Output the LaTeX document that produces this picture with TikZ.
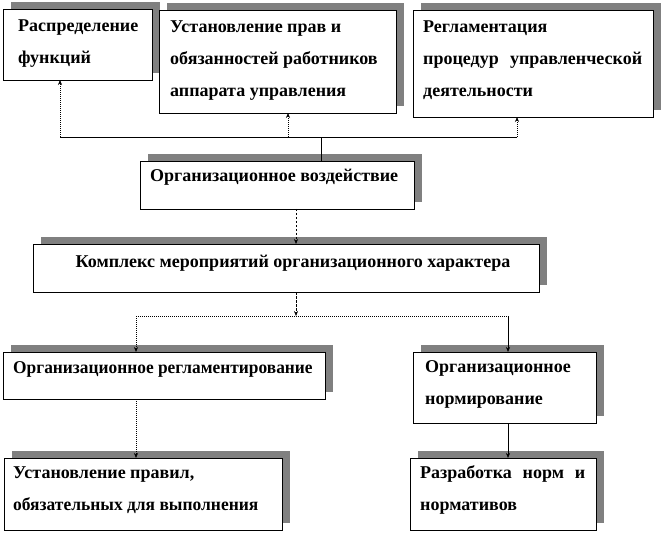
\documentclass[tikz,border=0pt]{standalone}
\usepackage{fontspec}
\setmainfont{Liberation Serif}
\usetikzlibrary{shadows,arrows.meta}
\definecolor{shadowgray}{RGB}{128,128,128}
\begin{document}
\begin{tikzpicture}[x=1pt,y=-1pt,
  box/.style={draw=black,line width=0.6pt,fill=white,rectangle,anchor=north west,inner sep=0pt,outer sep=0pt,
     drop shadow={shadow xshift=8pt,shadow yshift=7pt,fill=shadowgray,opacity=1}},
  txt/.style={anchor=north west,inner sep=0pt,align=left,font=\bfseries\fontsize{18}{32}\selectfont},
  ln/.style={line width=0.6pt},
  dotln/.style={line width=0.6pt,dash pattern=on 1pt off 1pt},
  dashln/.style={line width=0.6pt,dash pattern=on 2.5pt off 1.5pt},
  arr/.style={-{Stealth[length=5pt,width=4pt]}}
]
\useasboundingbox (0,0) rectangle (663,534);
% boxes
\node[box,minimum width=149pt,minimum height=71pt] (b1) at (3,9) {};
\node[box,minimum width=237pt,minimum height=103pt] (b2) at (159,10) {};
\node[box,minimum width=240pt,minimum height=107pt] (b3) at (413,10) {};
\node[box,minimum width=274pt,minimum height=48pt] (org) at (140,161) {};
\node[box,minimum width=506pt,minimum height=48pt] (kom) at (33,244) {};
\node[box,minimum width=322pt,minimum height=47pt] (reg) at (3,352) {};
\node[box,minimum width=183pt,minimum height=71pt] (norm) at (413,352) {};
\node[box,minimum width=278pt,minimum height=72pt] (prav) at (4,458) {};
\node[box,minimum width=186pt,minimum height=72pt] (razr) at (410,458) {};
% texts
\node[txt] (t1) at (18,18) {\rule{0pt}{13pt}Распределение\\функций};
\node[txt] (t2) at (170,19) {\rule{0pt}{13pt}Установление прав и\\обязанностей работников\\аппарата управления};
\node[txt] (t3) at (423,19) {\rule{0pt}{13pt}Регламентация\\\makebox[219pt][s]{процедур управленческой}\\деятельности};
\node[txt] (to) at (150,168) {\rule{0pt}{13pt}Организационное воздействие};
\node[txt,anchor=north] (tk) at (293,254) {\rule{0pt}{13pt}Комплекс мероприятий организационного характера};
\node[txt] (tr) at (13,360) {\rule{0pt}{13pt}\scalebox{0.965}[1]{Организационное регламентирование}};
\node[txt] (tn) at (425,359) {\rule{0pt}{13pt}Организационное\\нормирование};
\node[txt] (tp) at (13,465) {\rule{0pt}{13pt}Установление правил,\\\scalebox{0.97}[1]{обязательных для выполнения}};
\node[txt] (tz) at (420,465) {\rule{0pt}{13pt}\makebox[165pt][s]{Разработка норм и}\\нормативов};
% connectors top
\coordinate (jm) at (321,137);
\coordinate (ja) at (60,137);
\coordinate (jb) at (288,137);
\coordinate (jc) at (517,137);
\draw[ln] (jm |- org.north) -- (jm);
\draw[ln] (ja) -- (jc);
\draw[dotln,arr] (ja) -- (ja |- b1.south);
\draw[dotln,arr] (jb) -- (jb |- b2.south);
\draw[dotln,arr] (jc) -- (jc |- b3.south);
% middle
\coordinate (k) at (296,316);
\draw[dashln,arr] (k |- org.south) -- (k |- kom.north);
\draw[dashln,arr] (k |- kom.south) -- (k);
\coordinate (ka) at (136,316);
\coordinate (kb) at (508,316);
\draw[dotln] (ka) -- (kb);
\draw[dotln,arr] (ka) -- (ka |- reg.north);
\draw[ln,arr] (kb) -- (kb |- norm.north);
\draw[dotln,arr] (ka |- reg.south) -- (ka |- prav.north);
\draw[ln,arr] (kb |- norm.south) -- (kb |- razr.north);
\end{tikzpicture}
\end{document}
